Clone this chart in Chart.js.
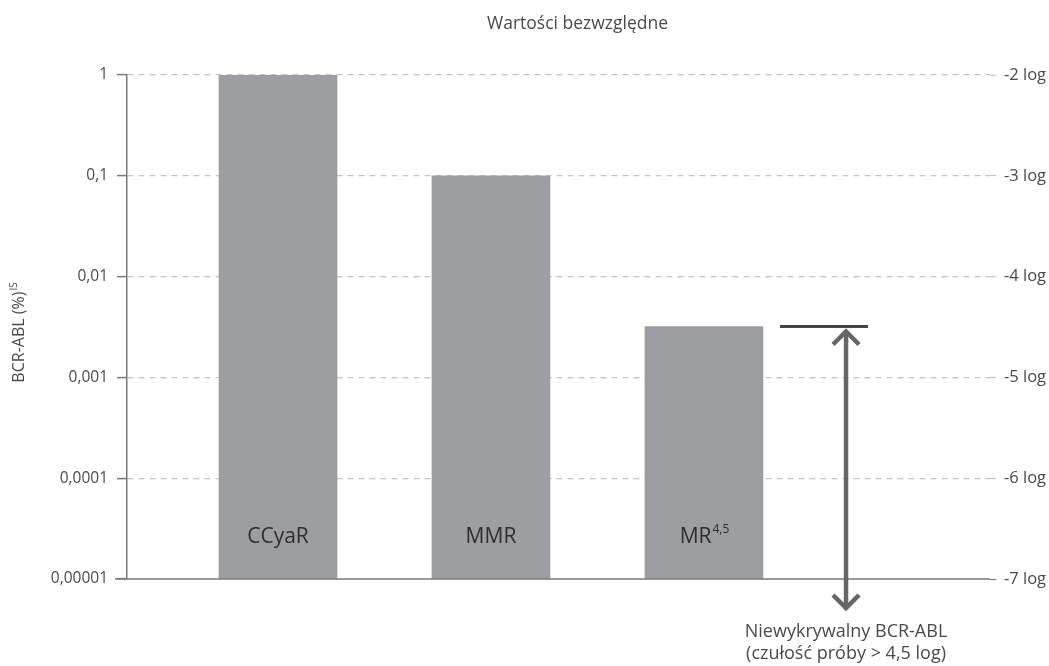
<!DOCTYPE html>
<html><head><meta charset="utf-8">
<script src="https://cdn.jsdelivr.net/npm/chart.js@4/dist/chart.umd.min.js"></script>
<style>html,body{margin:0;padding:0;background:#fff}#wrap{width:1049px;height:666px}</style>
</head><body><div id="wrap"><canvas id="c" width="1049" height="666"></canvas></div>
<script>
const categories = ['CCyaR', 'MMR', 'MR'];
const categorySup = ['', '', '4,5'];
const values = [1, 0.1, 0.0032];
const leftTickValues = [1, 0.1, 0.01, 0.001, 0.0001, 0.00001];
const leftTickLabels = ['1', '0,1', '0,01', '0,001', '0,0001', '0,00001'];
const rightTickLabels = ['-2 log', '-3 log', '-4 log', '-5 log', '-6 log', '-7 log'];
const detectionLimit = 0.0032;
const titleText = 'Wartości bezwzględne';
const yTitle = 'BCR-ABL (%)';
const yTitleSup = 'IS';
const noteLines = ['Niewykrywalny BCR-ABL', '(czułość próby > 4,5 log)'];

const FONT = '"Open Sans", "Noto Sans", sans-serif';
const TXT = '#4a4a4a';

const decor = {
  id: 'decor',
  afterDatasetsDraw(chart) {
    const ctx = chart.ctx, x = chart.scales.x, y = chart.scales.y, ca = chart.chartArea;
    ctx.save();
    // baseline
    ctx.strokeStyle = '#7a7a7a'; ctx.lineWidth = 1.5;
    ctx.beginPath(); ctx.moveTo(ca.left - 12, ca.bottom); ctx.lineTo(ca.right, ca.bottom); ctx.stroke();
    // bar labels
    ctx.fillStyle = '#2e2e2e'; ctx.textBaseline = 'alphabetic';
    categories.forEach((c, i) => {
      const cx = x.getPixelForValue(i);
      ctx.font = '21px ' + FONT;
      const w1 = ctx.measureText(c).width;
      ctx.font = '12px ' + FONT;
      const w2 = categorySup[i] ? ctx.measureText(categorySup[i]).width : 0;
      const sx = cx - (w1 + w2) / 2;
      ctx.font = '21px ' + FONT; ctx.textAlign = 'left';
      ctx.fillText(c, sx, ca.bottom - 36);
      if (categorySup[i]) { ctx.font = '12px ' + FONT; ctx.fillText(categorySup[i], sx + w1 + 1, ca.bottom - 46); }
    });
    // detection limit line + arrow
    const yl = y.getPixelForValue(detectionLimit);
    ctx.strokeStyle = '#444'; ctx.lineWidth = 3;
    ctx.beginPath(); ctx.moveTo(x.getPixelForValue(2.357), yl); ctx.lineTo(x.getPixelForValue(2.77), yl); ctx.stroke();
    const ax = x.getPixelForValue(2.667);
    const yb = ca.bottom + 30;
    ctx.strokeStyle = '#666'; ctx.lineWidth = 4.5; ctx.lineCap = 'butt';
    ctx.beginPath(); ctx.moveTo(ax, yl + 4); ctx.lineTo(ax, yb); ctx.stroke();
    ctx.lineJoin = 'miter';
    ctx.beginPath(); ctx.moveTo(ax - 13, yl + 18); ctx.lineTo(ax, yl + 5); ctx.lineTo(ax + 13, yl + 18); ctx.stroke();
    ctx.beginPath(); ctx.moveTo(ax - 13, yb - 14); ctx.lineTo(ax, yb - 1); ctx.lineTo(ax + 13, yb - 14); ctx.stroke();
    // note
    ctx.fillStyle = TXT; ctx.font = '18px ' + FONT; ctx.textAlign = 'center';
    ctx.fillText(noteLines[0], ax, ca.bottom + 58);
    ctx.fillText(noteLines[1], ax, ca.bottom + 80);
    // title
    ctx.font = '17.5px ' + FONT;
    ctx.fillText(titleText, (ca.left + ca.right) / 2 + 19, 29);
    // y title rotated
    ctx.translate(24, 333);
    ctx.rotate(-Math.PI / 2);
    ctx.font = '16px ' + FONT;
    const w1 = ctx.measureText(yTitle).width;
    ctx.font = '10px ' + FONT;
    const w2 = ctx.measureText(yTitleSup).width;
    ctx.textAlign = 'left';
    ctx.font = '16px ' + FONT;
    ctx.fillText(yTitle, -(w1 + w2) / 2, 0);
    ctx.font = '10px ' + FONT;
    ctx.fillText(yTitleSup, -(w1 + w2) / 2 + w1 + 1, -7);
    ctx.restore();
  }
};

new Chart(document.getElementById('c'), {
  type: 'bar',
  data: {
    datasets: [{
      data: values.map((v, i) => ({ x: i, y: v })),
      backgroundColor: '#9d9ea2',
      borderWidth: 0,
      barThickness: 118
    }]
  },
  plugins: [decor],
  options: {
    responsive: false,
    animation: false,
    layout: { padding: { top: 75, bottom: 87, left: 0, right: 0 } },
    plugins: { legend: { display: false }, tooltip: { enabled: false }, title: { display: false } },
    scales: {
      x: {
        type: 'linear', min: -0.709, max: 3.343, display: false, offset: false
      },
      y: {
        type: 'logarithmic', position: 'left', min: 0.00001, max: 1,
        afterBuildTicks: s => { s.ticks = leftTickValues.map(v => ({ value: v })); },
        afterFit: s => { s.width = 127; },
        grid: { color: c => c.tick && c.tick.value === 0.00001 ? 'rgba(0,0,0,0)' : '#c4c4c4', lineWidth: 1.2,
                tickColor: '#7a7a7a', tickLength: 10, tickBorderDash: [], tickWidth: 1.5 },
        border: { display: true, color: '#7a7a7a', width: 1.5, dash: [6, 5] },
        ticks: { padding: 9, color: TXT, font: { family: FONT, size: 15.5 },
                 callback: (v) => { const i = leftTickValues.indexOf(v); return i >= 0 ? leftTickLabels[i] : ''; } }
      },
      y2: {
        type: 'logarithmic', position: 'right', min: 0.00001, max: 1,
        afterBuildTicks: s => { s.ticks = leftTickValues.map(v => ({ value: v })); },
        afterFit: s => { s.width = 59; },
        grid: { drawOnChartArea: false, tickLength: 8, tickColor: c => c.tick && c.tick.value === 0.00001 ? '#7a7a7a' : '#c4c4c4',
                tickBorderDash: [6, 5], tickWidth: 1.2 },
        border: { display: false },
        ticks: { padding: 6, color: TXT, font: { family: FONT, size: 16.5 },
                 callback: (v) => { const i = leftTickValues.indexOf(v); return i >= 0 ? rightTickLabels[i] : ''; } }
      }
    }
  }
});
</script></body></html>
